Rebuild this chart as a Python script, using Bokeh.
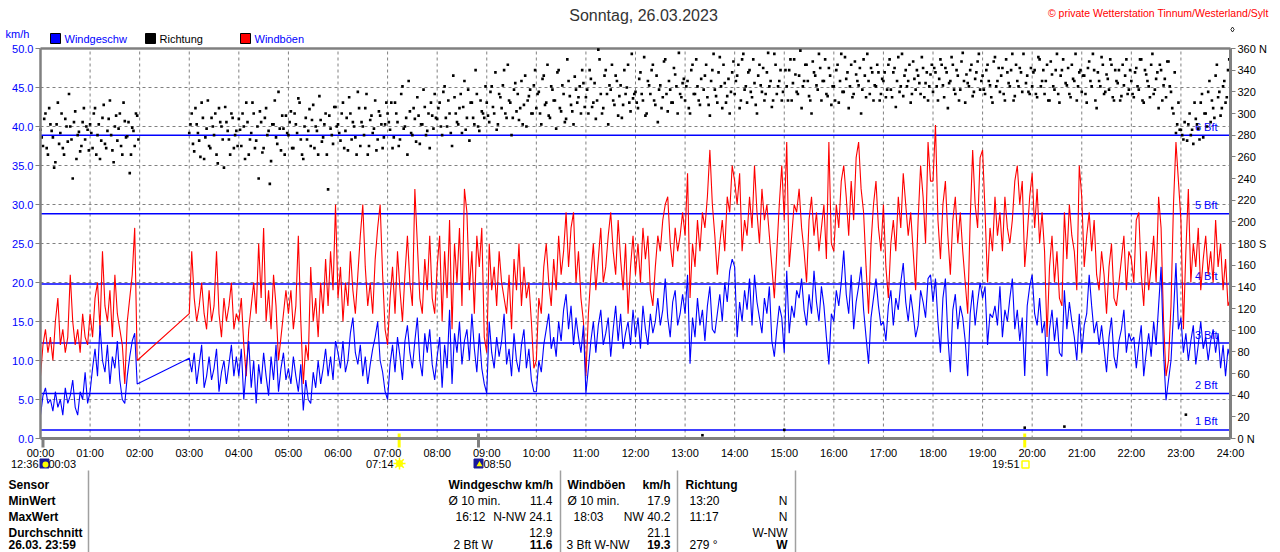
from bokeh.plotting import figure
from bokeh.models import Range1d, LinearAxis, FixedTicker
from bokeh.core.properties import value
from bokeh.embed import file_html
from bokeh.resources import INLINE

# ------------------------------------------------------------------ data
# sample times in minutes (3-minute values, no data between 02:00 and 03:00)
sample_minutes = list(range(0, 120, 3)) + list(range(180, 1441, 3))

wind_kmh = [
    3.0, 5.5, 6.5, 4.5, 5.0, 3.5, 6.0, 4.0, 5.0, 3.0, 6.5, 4.5, 5.5, 7.5, 4.0, 3.0, 6.0, 5.0, 8.5, 4.5,      # 00
    6.0, 9.0, 11.5, 8.0, 14.5, 10.0, 8.5, 12.0, 7.0, 10.5, 9.0, 12.5, 7.5, 5.0, 4.5, 8.0, 10.5, 12.5, 13.5, 7.0,  # 01
    10.3, 8.5, 11.0, 7.0, 9.5, 12.0, 6.5, 8.0, 10.5, 7.5, 9.0, 11.5, 6.0, 8.5, 10.0, 7.0, 9.5, 12.0, 8.0, 10.5,  # 03
    8.0, 11.5, 5.0, 9.0, 12.5, 6.5, 10.0, 4.5, 9.5, 7.0, 11.0, 8.0, 5.5, 10.5, 7.5, 12.0, 6.0, 9.0, 11.0, 7.5,   # 04
    9.0, 7.0, 10.5, 8.0, 6.0, 9.5, 3.6, 7.5, 5.0, 4.5, 8.5, 6.5, 10.0, 7.0, 9.0, 11.5, 8.0, 10.5, 7.5, 12.5,    # 05
    11.0, 9.0, 12.5, 8.5, 10.0, 13.5, 15.5, 11.0, 9.5, 12.0, 8.0, 10.5, 7.0, 9.5, 11.5, 13.0, 15.0, 10.0, 8.5, 6.0,  # 06
    5.0, 9.5, 12.0, 8.5, 13.0, 10.5, 7.5, 12.5, 14.5, 11.0, 9.0, 12.5, 15.5, 10.0, 8.0, 13.5, 11.0, 14.0, 9.5, 7.5,  # 07
    10.5, 13.0, 6.5, 12.0, 9.0, 16.5, 7.0, 13.5, 11.0, 15.0, 9.5, 12.5, 14.0, 10.0, 16.0, 11.5, 8.5, 13.5, 9.0, 7.0,  # 08
    5.8, 15.0, 11.0, 9.0, 13.0, 10.5, 12.5, 16.0, 9.5, 11.5, 8.0, 13.5, 10.0, 8.5, 12.0, 14.0, 9.0, 11.5, 7.5, 6.0,  # 09
    6.0, 10.0, 8.5, 12.0, 14.0, 16.0, 11.5, 13.0, 10.5, 15.0, 12.5, 16.5, 18.5, 14.0, 17.0, 12.0, 15.5, 13.0, 11.0, 14.5,  # 10
    5.8, 9.0, 12.5, 15.0, 11.0, 14.5, 16.5, 12.0, 13.5, 15.5, 10.5, 14.0, 17.0, 12.5, 16.0, 11.5, 13.5, 15.0, 12.0, 16.5,  # 11
    13.0, 15.5, 11.5, 17.0, 14.0, 12.0, 16.0, 13.5, 15.0, 18.0, 14.5, 16.5, 20.5, 15.5, 13.0, 17.5, 19.0, 14.5, 16.0, 18.5,  # 12
    16.0, 21.0, 9.6, 15.5, 13.0, 18.0, 14.5, 16.5, 12.5, 17.0, 19.5, 14.0, 13.5, 16.0, 18.5, 15.0, 20.0, 17.5, 21.5, 23.0,  # 13
    22.0, 13.0, 17.5, 15.0, 19.0, 16.5, 20.5, 14.5, 21.0, 17.5, 15.5, 13.5, 18.0, 16.0, 19.5, 12.5, 10.5, 14.0, 17.0, 15.5,  # 14
    11.0, 21.5, 13.5, 17.0, 15.5, 19.0, 18.0, 20.5, 16.5, 14.5, 18.5, 16.0, 21.5, 17.5, 15.0, 19.5, 17.0, 13.0, 9.5, 16.0,  # 15
    15.0, 19.0, 17.0, 20.0, 24.1, 18.5, 16.0, 21.0, 14.0, 17.5, 19.5, 22.0, 16.5, 13.0, 9.6, 15.5, 18.0, 20.5, 17.0, 14.5,  # 16
    15.0, 12.5, 17.0, 19.0, 14.5, 18.0, 16.5, 20.0, 22.5, 17.5, 15.0, 18.5, 16.0, 13.0, 14.5, 19.0, 17.5, 15.5, 20.5, 21.0,  # 17
    17.5, 20.5, 15.0, 11.0, 18.0, 20.5, 13.0, 8.5, 16.5, 18.5, 14.0, 17.0, 15.5, 12.5, 8.0, 16.0, 19.0, 14.5, 17.5, 20.0,  # 18
    18.0, 19.5, 12.0, 16.0, 15.5, 17.0, 14.5, 19.5, 13.0, 16.5, 15.0, 18.0, 20.5, 14.0, 16.5, 12.5, 15.5, 8.0, 17.0, 19.5,  # 19
    21.0, 16.0, 14.5, 18.0, 13.5, 15.0, 8.0, 14.0, 16.5, 12.5, 15.5, 11.0, 10.5, 19.0, 14.0, 17.5, 15.0, 13.0, 10.0, 16.0,  # 20
    11.0, 14.5, 16.0, 21.0, 17.0, 13.5, 15.0, 12.0, 14.5, 11.5, 8.5, 13.0, 15.5, 10.5, 9.0, 12.5, 14.0, 16.5, 11.0, 13.5,  # 21
    12.5, 13.0, 9.0, 12.0, 14.5, 8.0, 11.0, 13.5, 10.5, 15.0, 12.0, 17.0, 22.0, 11.0, 4.9, 7.5, 10.0, 16.0, 22.5, 14.0,  # 22
    15.5, 11.0, 13.5, 10.0, 12.5, 14.5, 9.5, 12.0, 15.0, 11.5, 13.0, 10.0, 12.5, 14.0, 11.0, 13.5, 9.0, 12.0, 8.0, 11.5,  # 23
    10.0,
]

gust_kmh = [
    8, 12, 14, 11, 13, 10, 15, 18, 12, 14, 11, 13, 21, 15, 12, 14, 11, 16, 13, 12,   # 00
    16, 13, 18, 20, 14, 24, 17, 15, 19, 13, 21, 16, 14, 12, 7, 15, 18, 21, 27, 10,   # 01
    16, 24, 18, 15, 17, 20, 16, 14, 19, 15, 17, 24, 16, 13, 18, 15, 17, 20, 14, 16,  # 03
    15, 18, 12, 8, 14, 17, 20, 16, 25, 18, 27, 15, 19, 14, 21, 17, 10, 13, 16, 19,   # 04
    16, 19, 14, 17, 26, 15, 7, 12, 10, 22, 15, 18, 13, 20, 16, 23, 17, 24, 19, 30,   # 05
    18, 22, 15, 20, 17, 24, 19, 16, 21, 26, 30, 22, 17, 20, 16, 23, 27, 30, 21, 14,  # 06
    12, 18, 22, 16, 24, 19, 15, 21, 26, 20, 17, 32, 25, 18, 16, 23, 19, 26, 18, 16,  # 07
    22, 26, 15, 24, 18, 28, 14, 25, 20, 27, 17, 32, 29, 19, 24, 16, 26, 22, 27, 13,  # 08
    11, 25, 19, 22, 17, 24, 20, 18, 16, 21, 14, 23, 19, 25, 17, 22, 18, 20, 15, 9,   # 09
    10, 18, 16, 22, 25, 20, 17, 23, 19, 26, 21, 24, 29, 22, 27, 29, 20, 24, 18, 15,  # 10
    8, 16, 21, 25, 19, 23, 27, 20, 22, 26, 29, 24, 21, 28, 23, 19, 25, 16, 22, 26,   # 11
    21, 25, 20, 27, 23, 26, 19, 17, 22, 26, 24, 28, 30, 31, 25, 22, 27, 24, 26, 29,  # 12
    26, 34, 18, 25, 22, 28, 24, 29, 27, 31, 37, 30, 26, 21, 25, 28, 24, 31, 29, 35,  # 13
    33, 30, 34, 24, 28, 26, 31, 27, 35, 29, 25, 32, 28, 30, 26, 22, 18, 24, 30, 35,  # 14
    28, 38, 22, 26, 30, 29, 32, 27, 24, 20, 28, 31, 26, 29, 24, 27, 30, 23, 38, 25,  # 15
    24, 30, 27, 33, 35, 31, 26, 33, 28, 36, 38, 32, 29, 22, 16, 25, 30, 33, 27, 24,  # 16
    30, 22, 18, 25, 28, 24, 31, 27, 34, 30, 26, 29, 24, 19, 28, 35, 31, 25, 38, 33,  # 17
    33, 40.2, 28, 23, 30, 33, 26, 21, 28, 31, 25, 29, 24, 20, 16, 28, 37, 30, 27, 36,  # 18
    37, 29, 20, 27, 24, 31, 26, 29, 24, 31, 27, 25, 28, 33, 35, 30, 33, 22, 26, 31,  # 19
    34, 27, 32, 25, 29, 24, 13, 22, 26, 20, 24, 18, 17, 29, 23, 30, 26, 24, 19, 35,  # 20
    31, 22, 26, 29, 24, 28, 21, 19, 24, 21, 16, 22, 25, 18, 17, 20, 23, 26, 19, 24,  # 21
    23, 20, 28, 29, 21, 17, 24, 19, 22, 26, 20, 31, 27, 15, 8, 10, 17, 30, 38, 33,   # 22
    28, 14, 24, 32, 20, 25, 22, 27, 19, 23, 26, 21, 24, 20, 28, 22, 25, 19, 23, 17,  # 23
    18,
]

# wind direction on the full sample minutes
dir_deg = [
    285, 270, 300, 262, 290, 278, 255, 310, 282, 268, 295, 274, 288, 240, 302, 280, 265, 292, 276, 285,  # 00
    290, 268, 305, 280, 258, 296, 272, 284, 312, 266, 288, 275, 300, 262, 293, 279, 245, 287, 270, 298,  # 01
    282, 300, 265, 290, 275, 310, 258, 286, 270, 296, 280, 262, 305, 288, 250, 292, 276, 300, 268, 284,  # 03
    295, 270, 288, 310, 262, 282, 300, 275, 240, 292, 268, 305, 284, 256, 290, 278, 320, 266, 286, 298,  # 04
    280, 302, 268, 290, 314, 276, 258, 296, 284, 270, 308, 288, 262, 294, 278, 300, 230, 286, 272, 306,  # 05
    290, 275, 310, 284, 266, 300, 292, 278, 320, 270, 288, 305, 262, 294, 282, 312, 276, 298, 268, 290,  # 06
    300, 285, 268, 310, 292, 276, 325, 288, 262, 302, 280, 295, 315, 272, 290, 306, 284, 268, 298, 318,  # 07
    295, 310, 280, 325, 288, 300, 270, 315, 292, 305, 282, 330, 296, 275, 310, 290, 318, 284, 302, 296,  # 08
    310, 292, 325, 300, 285, 318, 305, 340, 296, 312, 280, 322, 302, 294, 330, 308, 288, 316, 300, 326,  # 09
    305, 320, 290, 335, 310, 298, 325, 312, 286, 340, 302, 318, 295, 330, 308, 290, 322, 315, 300, 328,  # 10
    315, 300, 332, 310, 295, 359, 318, 305, 340, 290, 322, 312, 335, 298, 326, 308, 318, 345, 302, 314,  # 11
    320, 305, 338, 312, 298, 330, 318, 345, 308, 292, 326, 315, 350, 302, 322, 310, 336, 300, 318, 328,  # 12
    312, 330, 300, 345, 318, 325, 308, 3, 335, 315, 298, 340, 322, 310, 352, 305, 328, 316, 300, 338,    # 13
    318, 335, 305, 350, 322, 310, 340, 315, 328, 300, 345, 320, 312, 338, 325, 306, 355, 318, 330, 312,  # 14
    8, 325, 340, 312, 350, 320, 335, 305, 330, 345, 316, 300, 338, 326, 355, 312, 330, 318, 342, 308,    # 15
    325, 340, 310, 355, 320, 332, 305, 345, 318, 336, 326, 300, 350, 315, 330, 342, 312, 325, 338, 318,  # 16
    330, 315, 345, 322, 338, 306, 352, 325, 316, 340, 330, 310, 348, 322, 335, 318, 342, 328, 312, 336,  # 17
    320, 338, 312, 350, 326, 342, 305, 330, 345, 318, 335, 322, 356, 310, 328, 340, 316, 332, 348, 322,  # 18
    335, 318, 345, 326, 310, 352, 330, 320, 342, 312, 338, 325, 355, 316, 330, 342, 320, 10, 335, 318,   # 19
    325, 340, 315, 350, 330, 318, 345, 312, 336, 322, 355, 310, 340, 11, 326, 318, 345, 330, 312, 338,   # 20
    320, 335, 310, 348, 325, 340, 305, 330, 352, 318, 336, 322, 345, 312, 330, 340, 316, 326, 350, 322,  # 21
    330, 315, 342, 322, 350, 310, 336, 325, 345, 318, 332, 305, 340, 326, 315, 348, 320, 300, 282, 310,  # 22
    285, 276, 22, 290, 280, 272, 295, 286, 310, 278, 300, 320, 292, 305, 335, 315, 298, 325, 310, 340,   # 23
    300,
]

# wind direction on the in-between readings (1.5 min after each sample)
dir_deg_mid = [
    278, 295, 268, 305, 284, 250, 290, 272, 300, 262, 288, 318, 276, 292, 258, 283, 270, 305, 288, 266,  # 00
    282, 300, 262, 290, 275, 308, 268, 295, 280, 255, 298, 286, 270, 310, 278, 292, 262, 284, 300, 276,  # 01
    290, 272, 305, 282, 260, 296, 278, 312, 268, 288, 300, 254, 292, 276, 306, 284, 262, 296, 280, 270,  # 03
    285, 300, 258, 292, 276, 310, 268, 288, 302, 264, 296, 280, 235, 290, 312, 272, 286, 298, 262, 282,  # 04
    292, 268, 300, 282, 310, 262, 288, 276, 304, 294, 268, 284, 316, 274, 290, 262, 298, 280, 306, 288,  # 05
    282, 300, 268, 296, 315, 276, 288, 262, 305, 292, 280, 318, 270, 298, 286, 266, 302, 290, 278, 310,  # 06
    292, 310, 278, 300, 270, 318, 286, 296, 330, 282, 305, 274, 298, 290, 322, 280, 300, 310, 286, 296,  # 07
    305, 288, 320, 296, 312, 282, 335, 300, 290, 318, 306, 285, 322, 310, 296, 340, 288, 312, 300, 325,  # 08
    298, 320, 306, 338, 290, 315, 326, 300, 345, 310, 296, 328, 318, 305, 290, 335, 312, 322, 300, 340,  # 09
    318, 300, 332, 308, 345, 296, 322, 312, 338, 305, 326, 292, 350, 316, 302, 334, 310, 325, 340, 306,  # 10
    322, 340, 306, 328, 312, 350, 300, 335, 318, 326, 345, 308, 330, 316, 296, 340, 324, 310, 355, 318,  # 11
    310, 332, 318, 352, 300, 326, 340, 312, 335, 322, 305, 348, 318, 330, 310, 342, 325, 356, 315, 332,  # 12
    325, 305, 340, 318, 350, 312, 332, 322, 345, 308, 330, 355, 316, 338, 325, 345, 310, 332, 320, 348,  # 13
    330, 345, 312, 355, 325, 338, 320, 350, 308, 335, 326, 342, 318, 356, 330, 312, 345, 325, 340, 320,  # 14
    340, 312, 350, 328, 336, 318, 358, 325, 345, 330, 312, 348, 335, 322, 342, 330, 350, 316, 335, 325,  # 15
    312, 345, 330, 320, 352, 338, 325, 315, 348, 330, 342, 322, 335, 355, 318, 338, 326, 345, 312, 332,  # 16
    338, 322, 350, 315, 342, 330, 320, 355, 335, 325, 345, 318, 332, 340, 328, 352, 315, 338, 325, 345,  # 17
    342, 325, 332, 345, 315, 338, 328, 352, 322, 340, 312, 348, 330, 336, 325, 345, 320, 338, 355, 330,  # 18
    322, 340, 330, 315, 348, 325, 342, 335, 318, 350, 328, 340, 312, 345, 325, 338, 355, 328, 320, 342,  # 19
    338, 318, 352, 325, 340, 330, 312, 348, 325, 340, 318, 335, 350, 328, 342, 315, 332, 355, 325, 340,  # 20
    335, 318, 342, 330, 355, 312, 338, 325, 345, 320, 332, 350, 315, 340, 328, 312, 345, 335, 318, 340,  # 21
    318, 338, 325, 350, 312, 340, 330, 315, 355, 322, 338, 345, 312, 332, 348, 325, 305, 338, 290, 285,  # 22
    280, 292, 275, 300, 285, 310, 290, 276, 318, 300, 288, 330, 312, 296, 345, 320, 305, 330, 315, 350,  # 23
]

speed_ticks = [0, 5, 10, 15, 20, 25, 30, 35, 40, 45, 50]
speed_tick_labels = ["0.0", "5.0", "10.0", "15.0", "20.0", "25.0", "30.0", "35.0", "40.0", "45.0", "50.0"]
dir_ticks = [0, 20, 40, 60, 80, 100, 120, 140, 160, 180, 200, 220, 240, 260, 280, 300, 320, 340, 360]
dir_tick_labels = ["0 N", "20", "40", "60", "80", "100", "120", "140", "160", "180 S", "200", "220",
                   "240", "260", "280", "300", "320", "340", "360 N"]
hour_ticks = list(range(0, 25))
hour_tick_labels = ["00:00", "01:00", "02:00", "03:00", "04:00", "05:00", "06:00", "07:00", "08:00",
                    "09:00", "10:00", "11:00", "12:00", "13:00", "14:00", "15:00", "16:00", "17:00",
                    "18:00", "19:00", "20:00", "21:00", "22:00", "23:00", "24:00"]

bft_levels = [1.1, 5.76, 12.24, 19.8, 28.8, 38.88]
bft_names = ["1 Bft", "2 Bft", "3 Bft", "4 Bft", "5 Bft", "6 Bft"]

title_text = "Sonntag, 26.03.2023"
copyright_text = "\u00a9 private Wetterstation Tinnum/Westerland/Sylt"
legend_names = ["Windgeschw", "Richtung", "Windb\u00f6en"]

sun_times_h = [7 + 14 / 60, 19 + 51 / 60]
sun_labels = ["07:14", "19:51"]
moon_times_h = [0 + 3 / 60, 8 + 50 / 60]
moon_labels = ["12:36", "00:03", "08:50"]

row_labels = ["Sensor", "MinWert", "MaxWert", "Durchschnitt", "26.03.  23:59"]
speed_head = "Windgeschw km/h"
speed_left = ["\u00d8 10 min.", "16:12", "", "2 Bft W"]
speed_right = ["11.4", "N-NW 24.1", "12.9"]
speed_now = "11.6"
gust_head = ["Windb\u00f6en", "km/h"]
gust_left = ["\u00d8 10 min.", "18:03", "", "3 Bft W-NW"]
gust_right = ["17.9", "NW 40.2", "21.1"]
gust_now = "19.3"
dir_head = "Richtung"
dir_left = ["13:20", "11:17", "", "279 \u00b0"]
dir_right = ["N", "N", "W-NW"]
dir_now = "W"

# ------------------------------------------------------------------ helpers
n = min(len(sample_minutes), len(wind_kmh), len(gust_kmh), len(dir_deg))
times_h = [m / 60 for m in sample_minutes[:n]]
wind_kmh = wind_kmh[:n]
gust_kmh = gust_kmh[:n]
dir_deg = dir_deg[:n]
n_mid = min(len(sample_minutes) - 1, len(dir_deg_mid))
times_mid_h = [(m + 1.5) / 60 for m in sample_minutes[:n_mid]]
dir_deg_mid = dir_deg_mid[:n_mid]

FONT = "Liberation Sans"
BLUE = "#0000ff"
RED = "#ff0000"
GRAY = "#808080"
YELLOW = "#ffff00"

PX_PER_H = 1190 / 24.0
PX_PER_KMH = 7.8
DEG_PER_KMH = 360 / 50.0


def X(px):
    return (px - 40) / PX_PER_H


def Y(py):
    return (438 - py) / PX_PER_KMH


W, H = 1280, 552
p = figure(width=W, height=H, title=None,
           x_range=Range1d(X(0), X(W)), y_range=Range1d(Y(H), Y(0)),
           output_backend="svg", toolbar_location=None,
           x_axis_location=None, y_axis_location=None, min_border=0,
           outline_line_color=None, background_fill_color="white", border_fill_color="white")
p.extra_y_ranges = {"dir": Range1d(Y(H) * DEG_PER_KMH, Y(0) * DEG_PER_KMH)}
p.grid.visible = False


def put(texts, pxs, pys, align="left", color="black", size="11px", bold=False):
    p.text(x=[X(a) for a in pxs], y=[Y(b) for b in pys], text=texts,
           text_align=align, text_baseline="middle", text_color=color,
           text_font=value(FONT), text_font_size=value(size),
           text_font_style="bold" if bold else "normal")


# ------------------------------------------------------------------ axes
yaxis = LinearAxis(fixed_location=0, bounds=(0, 50), ticker=FixedTicker(ticks=speed_ticks),
                   major_label_overrides=dict(zip(speed_ticks, speed_tick_labels)))
yaxis.axis_line_color = GRAY
yaxis.axis_line_width = 2.5
yaxis.major_tick_line_color = GRAY
yaxis.major_tick_out = 5
yaxis.major_tick_in = 0
yaxis.minor_tick_line_color = None
yaxis.major_label_standoff = 2
yaxis.major_label_text_color = BLUE
yaxis.major_label_text_font = FONT
yaxis.major_label_text_font_size = "11px"
p.add_layout(yaxis, "left")

raxis = LinearAxis(y_range_name="dir", fixed_location=24, bounds=(0, 360),
                   ticker=FixedTicker(ticks=dir_ticks),
                   major_label_overrides=dict(zip(dir_ticks, dir_tick_labels)))
raxis.axis_line_color = GRAY
raxis.axis_line_width = 3
raxis.major_tick_line_color = GRAY
raxis.major_tick_out = 5
raxis.major_tick_in = 0
raxis.minor_tick_line_color = None
raxis.major_label_standoff = 2
raxis.major_label_text_color = "black"
raxis.major_label_text_font = FONT
raxis.major_label_text_font_size = "11px"
p.add_layout(raxis, "right")

xaxis = LinearAxis(fixed_location=0, bounds=(0, 24), ticker=FixedTicker(ticks=hour_ticks),
                   major_label_overrides=dict(zip(hour_ticks, hour_tick_labels)))
xaxis.axis_line_color = GRAY
xaxis.axis_line_width = 3
xaxis.major_tick_line_color = None
xaxis.major_tick_out = 0
xaxis.major_tick_in = 0
xaxis.minor_tick_line_color = None
xaxis.major_label_standoff = 8
xaxis.major_label_text_color = "black"
xaxis.major_label_text_font = FONT
xaxis.major_label_text_font_size = "11px"
p.add_layout(xaxis, "below")

# ------------------------------------------------------------------ grid / frame
grid_hours = hour_ticks[1:-1]
grid_levels = speed_ticks[1:-1]
p.segment(x0=grid_hours, y0=0, x1=grid_hours, y1=50, line_color=GRAY, line_width=1, line_dash="3 3")
p.segment(x0=0, y0=grid_levels, x1=24, y1=grid_levels, line_color=GRAY, line_width=1, line_dash="3 3")
p.segment(x0=[0], y0=[50], x1=[24], y1=[50], line_color=GRAY, line_width=2.5)

# Beaufort lines and labels
p.segment(x0=0, y0=bft_levels, x1=24, y1=bft_levels, line_color=BLUE, line_width=1.5)
p.text(x=[X(1217)] * len(bft_levels), y=[b + 8.5 / PX_PER_KMH for b in bft_levels], text=bft_names,
       text_align="right", text_baseline="middle", text_color=BLUE,
       text_font=value(FONT), text_font_size=value("11px"))

# ------------------------------------------------------------------ data marks
p.scatter(times_h, dir_deg, y_range_name="dir", marker="square", size=2.6,
          fill_color="black", line_color=None)
p.scatter(times_mid_h, dir_deg_mid, y_range_name="dir", marker="square", size=2.6,
          fill_color="black", line_color=None)
p.line(times_h, gust_kmh, line_color=RED, line_width=1.1)
p.line(times_h, wind_kmh, line_color=BLUE, line_width=1.1)

# ------------------------------------------------------------------ header
put([title_text], [643], [15], align="center", color="#333333", size="16px")
put([copyright_text], [1268], [12], align="right", color=RED, size="10.5px")
put(["km/h"], [5], [33], color=BLUE)
p.scatter(x=[X(55), X(150), X(245)], y=[Y(38)] * 3, marker="square", size=10,
          fill_color=[BLUE, "black", RED], line_color="black", line_width=1)
put(legend_names, [64, 159, 254], [38, 38, 38], color=[BLUE, "black", BLUE])
p.scatter(x=[X(1232)], y=[Y(29)], marker="diamond", size=5, fill_color=None,
          line_color="black", line_width=0.8)

# ------------------------------------------------------------------ sun / moon markers
p.segment(x0=sun_times_h, y0=Y(433), x1=sun_times_h, y1=Y(447), line_color=YELLOW, line_width=3)
p.segment(x0=[moon_times_h[0]], y0=[Y(438)], x1=[moon_times_h[0]], y1=[Y(447)], line_color=GRAY, line_width=3)
p.segment(x0=[moon_times_h[1]], y0=[Y(433)], x1=[moon_times_h[1]], y1=[Y(447)], line_color=GRAY, line_width=3)
# icons
p.scatter(x=[X(44), X(478)], y=[Y(463), Y(463)], marker="square", size=9,
          fill_color="#1a1a9a", line_color="#1a1a9a")
p.scatter(x=[X(45)], y=[Y(464)], marker="circle", size=6, fill_color=YELLOW, line_color=None)
p.scatter(x=[X(479)], y=[Y(464)], marker="triangle", size=6, fill_color=YELLOW, line_color=None)
p.scatter(x=[X(399)], y=[Y(463)], marker="asterisk", size=12, line_color=YELLOW, line_width=1.5)
p.scatter(x=[X(399)], y=[Y(463)], marker="circle", size=7, fill_color=YELLOW, line_color=None)
p.scatter(x=[X(1025)], y=[Y(464)], marker="square", size=7, fill_color=None,
          line_color=YELLOW, line_width=1.5)
put([moon_labels[0]], [38], [463], align="right")
put([moon_labels[1]], [48], [463])
put([sun_labels[0]], [393], [463], align="right")
put([moon_labels[2]], [483], [463])
put([sun_labels[1]], [1019], [463], align="right")

# ------------------------------------------------------------------ table
ROWS = [484, 500, 516, 532, 544]
p.segment(x0=[X(88), X(560), X(677), X(795)], y0=Y(470), x1=[X(88), X(560), X(677), X(795)], y1=Y(552),
          line_color="#a0a0a0", line_width=1.5)
put(row_labels, [8] * 5, ROWS, size="12px", bold=True)

put([speed_head], [448], [ROWS[0]], size="12px", bold=True)
put(speed_left, [448, 455, 448, 453], ROWS[1:], size="12px")
put(speed_right, [552] * 3, ROWS[1:4], align="right", size="12px")
put([speed_now], [552], [ROWS[4]], align="right", size="12px", bold=True)

put([gust_head[0]], [567], [ROWS[0]], size="12px", bold=True)
put([gust_head[1]], [670], [ROWS[0]], align="right", size="12px", bold=True)
put(gust_left, [567, 573, 567, 566], ROWS[1:], size="12px")
put(gust_right, [670] * 3, ROWS[1:4], align="right", size="12px")
put([gust_now], [670], [ROWS[4]], align="right", size="12px", bold=True)

put([dir_head], [685], [ROWS[0]], size="12px", bold=True)
put(dir_left, [689] * 4, ROWS[1:], size="12px")
put(dir_right, [787] * 3, ROWS[1:4], align="right", size="12px")
put([dir_now], [787], [ROWS[4]], align="right", size="12px", bold=True)

open("out.html", "w").write(file_html(p, INLINE))
